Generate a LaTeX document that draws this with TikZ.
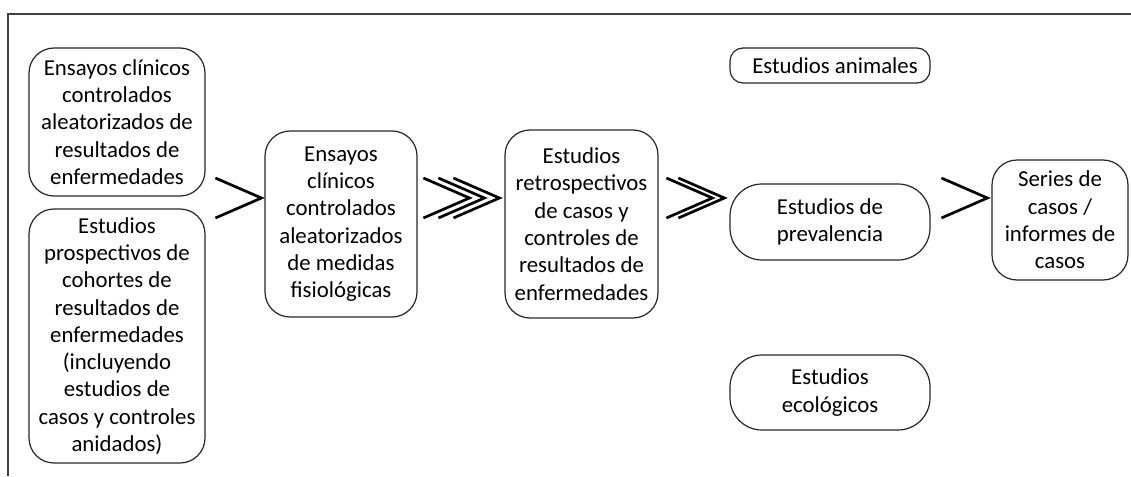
\documentclass[tikz,border=0pt]{standalone}
\usepackage{fontspec}
\setmainfont{Carlito}
\usepackage{tikz}
\usetikzlibrary{calc}

\tikzset{
  box/.style={draw=black!85, line width=1.2pt, rounded corners=25pt, align=center,
    inner sep=0pt, font=\fontsize{22.8}{27.3}\selectfont},
  chevron/.style={line width=2.7pt, line join=miter},
  chev/.pic={\draw[chevron] (-46,-20) -- (0,0) -- (-46,20);}
}

\begin{document}
\begin{tikzpicture}[x=1pt, y=-1pt]
    \useasboundingbox (0,0) rectangle (1131,476);
    % frame
    \draw[line width=1.5pt, black!75] (8,476) -- (8,14) -- (1131,14);
    % studies
    \node[box, minimum width=176, minimum height=148] (rctout) at (117,122)
      {Ensayos clínicos\\controlados\\aleatorizados de\\resultados de\\enfermedades};
    \node[box, minimum width=176, minimum height=254] (cohort) at (117,336)
      {Estudios\\prospectivos de\\cohortes de\\resultados de\\enfermedades\\(incluyendo\\estudios de\\casos y controles\\anidados)};
    \node[box, minimum width=152, minimum height=186] (rctphys) at (341,224)
      {Ensayos\\clínicos\\controlados\\aleatorizados\\de medidas\\fisiológicas};
    \node[box, minimum width=153, minimum height=188] (casectl) at (581.5,224)
      {Estudios\\retrospectivos\\de casos y\\controles de\\resultados de\\enfermedades};
    \node[box, rounded corners=32pt, minimum width=200, minimum height=76] (preval) at (830,222)
      {Estudios de\\prevalencia};
    \node[box, rounded corners=13pt, minimum width=200, minimum height=35] (animal) at (830,65.5)
      {\hspace*{10pt}Estudios animales};
    \node[box, rounded corners=32pt, minimum width=200, minimum height=75] (ecolog) at (830,392.5)
      {Estudios\\ecológicos};
    \node[box, minimum width=136, minimum height=120] (series) at (1060,220)
      {Series de\\casos /\\informes de\\casos};
    % chevrons
    \coordinate (lvl) at (0,198);
    \pic at ($(rctphys.west |- lvl)+(-3,0)$) {chev};
    \foreach \k in {0,1,2}
      \pic at ($(casectl.west |- lvl)+(-5-15*\k,0)$) {chev};
    \foreach \k in {0,1}
      \pic at ($(preval.west |- lvl)+(-5-12*\k,0)$) {chev};
    \pic at ($(series.west |- lvl)+(-4,0)$) {chev};
\end{tikzpicture}
\end{document}
